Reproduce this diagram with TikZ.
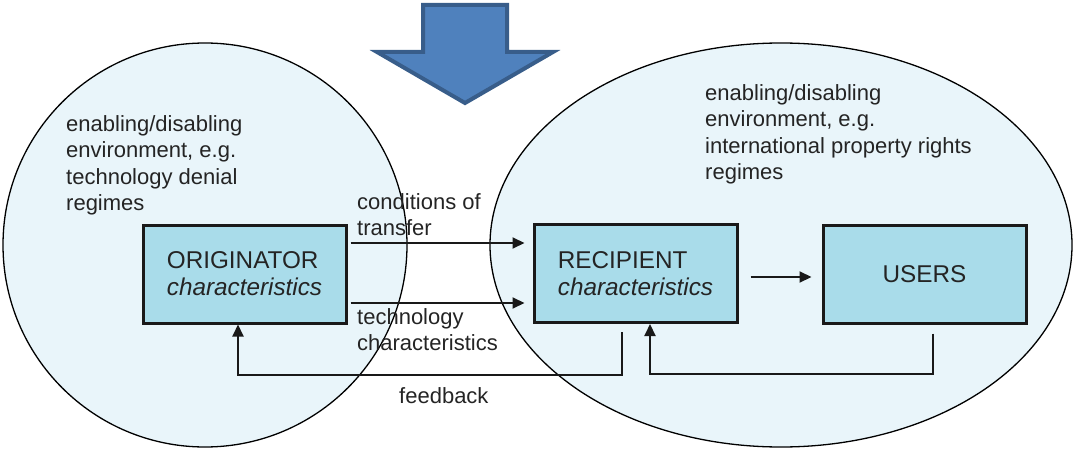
\documentclass[tikz,border=0pt]{standalone}
\usepackage{fontspec}
\setmainfont{Liberation Sans}
\usetikzlibrary{arrows.meta}
\definecolor{envfill}{HTML}{E9F5FA}
\definecolor{boxfill}{HTML}{A9DCEA}
\definecolor{txt}{HTML}{242424}
\definecolor{arrfill}{HTML}{4F81BD}
\definecolor{arrdraw}{HTML}{385D8A}
\tikzset{
  env/.style={draw=black, line width=1.3pt},
  blockbox/.style={draw=black!90, line width=3pt, fill=boxfill, minimum width=203pt, minimum height=98pt, inner sep=0pt, align=left, text=txt, font=\fontsize{24.3}{27}\selectfont},
  note/.style={text=txt, font=\fontsize{22}{26}\selectfont, align=left, inner sep=0pt, anchor=base west},
  arr/.style={draw=black!90, line width=2pt, -{Triangle[length=12pt,width=11pt]}},
  bigarrow/.style={fill=arrfill, draw=arrdraw, line width=4pt, line join=miter}
}
\begin{document}
\begin{tikzpicture}[x=1pt,y=-1pt]
\useasboundingbox (0,0) rectangle (1075,449);
% environments
\fill[envfill, even odd rule] (205,245) circle[radius=202] (781,245) ellipse[x radius=291, y radius=202];
\draw[env] (205,245) circle[radius=202];
\draw[env] (781,245) ellipse[x radius=291, y radius=202];
% boxes
\node[blockbox] (orig) at (244.5,274) {ORIGINATOR\\\textit{characteristics}};
\node[blockbox] (rec) at (635.5,273.5) {RECIPIENT\\\textit{characteristics}};
\node[blockbox, align=center] (users) at (924.5,274) {USERS};
% notes (anchored at the baseline of their last line)
\node[note] (envL) at (66,210) {enabling/disabling\\environment, e.g.\\technology denial\\regimes};
\node[note] (envR) at (705,179) {enabling/disabling\\environment, e.g.\\international property rights\\regimes};
\node[note] (cond) at (357,235) {conditions of\\transfer};
\node[note] (tech) at (357,350) {technology\\characteristics};
\node[note] (fb) at (399,403) {feedback};
% connectors
\draw[arr] ([shift={(3,-31)}]orig.east) -- ([shift={(-8,-30.5)}]rec.west);
\draw[arr] ([shift={(3,29)}]orig.east) -- ([shift={(-8,29.5)}]rec.west);
\draw[arr] ([shift={(12,3.5)}]rec.east) -- ([shift={(-10,3)}]users.west);
\coordinate (fbA) at ([shift={(-13.5,8)}]rec.south);
\draw[arr] (fbA) -- ++(0,43) -| ([xshift=-6.5]orig.south);
\coordinate (fbB) at ([shift={(8.5,9)}]users.south);
\draw[arr] (fbB) -- ++(0,40) -| ([xshift=14.5]rec.south);
% big arrow
\path[bigarrow] (423,5) -- (507,5) -- (507,52) -- (553,52) -- (465,103) -- (377,52) -- (423,52) -- cycle;
\end{tikzpicture}
\end{document}
